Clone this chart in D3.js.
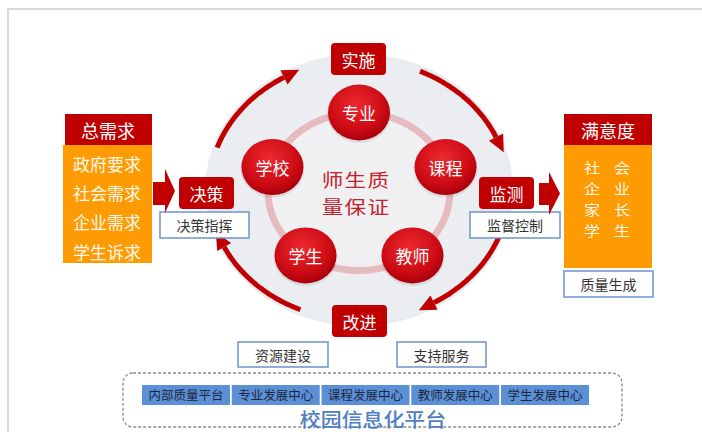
<!DOCTYPE html>
<html><head><meta charset="utf-8">
<script src="https://cdn.jsdelivr.net/npm/d3@7"></script>
<style>html,body{margin:0;padding:0;background:#fff;}svg{display:block;}</style>
</head><body>
<svg id="c" width="702" height="432"></svg>
<script>
// ---- data ----
const demandTitle = "总需求";
const demandItems = ["政府要求", "社会需求", "企业需求", "学生诉求"];
const satisfactionTitle = "满意度";
const satisfactionItems = [["社", "会"], ["企", "业"], ["家", "长"], ["学", "生"]];
const cycleSteps = ["实施", "监测", "改进", "决策"];
const stepNotes = ["决策指挥", "监督控制", "质量生成"];
const supportNotes = ["资源建设", "支持服务"];
const coreNodes = ["专业", "课程", "教师", "学生", "学校"];
const coreTitle = ["师生质", "量保证"];
const platformItems = ["内部质量平台", "专业发展中心", "课程发展中心", "教师发展中心", "学生发展中心"];
const platformTitle = "校园信息化平台";

// ---- drawing ----
const svg = d3.select("#c");
const FONT = "'Noto Sans CJK SC','Noto Sans',sans-serif";
const RED = "#c00000", ORANGE = "#fe9a02", BLUEB = "#6d95c9";

svg.append("rect").attr("width", 702).attr("height", 432).attr("fill", "#fff");
svg.append("path").attr("d", "M8,432 L8,9 L702,9").attr("fill", "none")
  .attr("stroke", "#d9d9d9").attr("stroke-width", 2);

const defs = svg.append("defs");
const rg = defs.append("radialGradient").attr("id", "nodeG").attr("cx", "45%").attr("cy", "35%").attr("r", "65%");
rg.append("stop").attr("offset", "0%").attr("stop-color", "#ee2a30");
rg.append("stop").attr("offset", "70%").attr("stop-color", "#cc0b14");
rg.append("stop").attr("offset", "100%").attr("stop-color", "#a8000c");
const bg = defs.append("radialGradient").attr("id", "bgG").attr("cx", "50%").attr("cy", "50%").attr("r", "50%");
bg.append("stop").attr("offset", "0%").attr("stop-color", "#f2f1f3");
bg.append("stop").attr("offset", "100%").attr("stop-color", "#e9ecf0");

// center geometry
const cx = 359, cy = 190;
svg.append("ellipse").attr("cx", cx).attr("cy", cy).attr("rx", 154).attr("ry", 136).attr("fill", "url(#bgG)");

// cycle arcs (clockwise, angles in degrees, screen coords)
const arcR = {rx: 150, ry: 130};
const arcSpans = [[199, 240], [-66, -24], [18, 60], [113, 154]];
const ang = d3.scaleLinear().domain([0, 360]).range([0, 2 * Math.PI]);
const lineGen = d3.line().curve(d3.curveBasis);
arcSpans.forEach(([a0, a1]) => {
  const pts = d3.range(a0, a1 + 0.01, 1).map(a => [cx + arcR.rx * Math.cos(ang(a)), cy + arcR.ry * Math.sin(ang(a))]);
  svg.append("path").attr("d", lineGen(pts)).attr("fill", "none").attr("stroke", RED).attr("stroke-width", 5);
  const t = ang(a1);
  const ex = cx + arcR.rx * Math.cos(t), ey = cy + arcR.ry * Math.sin(t);
  let tx = -arcR.rx * Math.sin(t), ty = arcR.ry * Math.cos(t);
  const L = Math.hypot(tx, ty); tx /= L; ty /= L;
  const nx = -ty, ny = tx;
  const len = 17, hw = 8;
  const tip = [ex + tx * len, ey + ty * len];
  const b1 = [ex + nx * hw, ey + ny * hw], b2 = [ex - nx * hw, ey - ny * hw];
  svg.append("path").attr("d", `M${tip}L${b1}L${b2}Z`).attr("fill", RED);
});

// inner ring
const ring = {rx: 91, ry: 79, cy: 191.5};
svg.append("ellipse").attr("cx", cx).attr("cy", ring.cy).attr("rx", ring.rx).attr("ry", ring.ry)
  .attr("fill", "#f0eff2").attr("stroke", "#e4bcc0").attr("stroke-width", 7);

// core title (two lines, horizontally widened like the reference)
const ctY = d3.scalePoint().domain(coreTitle).range([179.5, 206]);
coreTitle.forEach(s => {
  svg.append("text").attr("transform", `translate(${cx - 3},${ctY(s)}) scale(1.2,1)`)
    .attr("text-anchor", "middle").attr("dominant-baseline", "central")
    .attr("font-family", FONT).attr("font-size", 18).attr("fill", "#c3222b").attr("letter-spacing", 1).text(s);
});

// core nodes on pentagon
const nodeAng = d3.scaleLinear().domain([0, coreNodes.length]).range([-90, 270]);
coreNodes.forEach((n, i) => {
  const t = ang(nodeAng(i));
  const x = cx + ring.rx * Math.cos(t), y = ring.cy + ring.ry * Math.sin(t);
  svg.append("ellipse").attr("cx", x).attr("cy", y + 1.5).attr("rx", 32).attr("ry", 29).attr("fill", "#000").attr("opacity", 0.08);
  svg.append("ellipse").attr("cx", x).attr("cy", y).attr("rx", 31).attr("ry", 28).attr("fill", "url(#nodeG)");
  svg.append("text").attr("x", x).attr("y", y).attr("text-anchor", "middle").attr("dominant-baseline", "central")
    .attr("font-family", FONT).attr("font-size", 17).attr("fill", "#fff").text(n);
});

// red step boxes
const stepBoxes = [[331, 43], [479, 177], [332, 305], [179, 177]];
cycleSteps.forEach((s, i) => {
  const [x, y] = stepBoxes[i];
  svg.append("rect").attr("x", x).attr("y", y).attr("width", 55).attr("height", 32).attr("rx", 4).attr("fill", RED);
  svg.append("text").attr("x", x + 27.5).attr("y", y + 16).attr("text-anchor", "middle").attr("dominant-baseline", "central")
    .attr("font-family", FONT).attr("font-size", 17).attr("fill", "#fff").text(s);
});

// white note boxes
function noteBox(x, y, w, h, s) {
  svg.append("rect").attr("x", x).attr("y", y).attr("width", w).attr("height", h)
    .attr("fill", "#fff").attr("stroke", BLUEB).attr("stroke-width", 1.5);
  svg.append("text").attr("x", x + w / 2).attr("y", y + h / 2).attr("text-anchor", "middle").attr("dominant-baseline", "central")
    .attr("font-family", FONT).attr("font-size", 14).attr("fill", "#333").text(s);
}
noteBox(160, 212, 89, 26, stepNotes[0]);
noteBox(470, 212, 90, 26, stepNotes[1]);
noteBox(564, 271, 89, 26, stepNotes[2]);
noteBox(238, 342, 90, 25, supportNotes[0]);
noteBox(397, 342, 89, 25, supportNotes[1]);

// demand panel
svg.append("rect").attr("x", 63).attr("y", 145).attr("width", 89).attr("height", 118).attr("fill", ORANGE);
svg.append("rect").attr("x", 65).attr("y", 114).attr("width", 87).attr("height", 31).attr("fill", RED);
svg.append("text").attr("x", 108).attr("y", 130).attr("text-anchor", "middle").attr("dominant-baseline", "central")
  .attr("font-family", FONT).attr("font-size", 18).attr("fill", "#fff").text(demandTitle);
const dy = d3.scalePoint().domain(demandItems).range([163, 251]);
demandItems.forEach(s => {
  svg.append("text").attr("x", 107).attr("y", dy(s)).attr("text-anchor", "middle").attr("dominant-baseline", "central")
    .attr("font-family", FONT).attr("font-size", 17).attr("fill", "#fff8ea").text(s);
});

// satisfaction panel
svg.append("rect").attr("x", 564).attr("y", 145).attr("width", 88).attr("height", 123).attr("fill", ORANGE);
svg.append("rect").attr("x", 564).attr("y", 114).attr("width", 88).attr("height", 31).attr("fill", RED);
svg.append("text").attr("x", 608).attr("y", 130).attr("text-anchor", "middle").attr("dominant-baseline", "central")
  .attr("font-family", FONT).attr("font-size", 18).attr("fill", "#fff").text(satisfactionTitle);
const sy = d3.scalePoint().domain(d3.range(satisfactionItems.length)).range([167, 230]);
satisfactionItems.forEach((pair, i) => {
  pair.forEach((ch, j) => {
    svg.append("text").attr("transform", `translate(${592 + j * 30},${sy(i)}) scale(1.15,1)`)
      .attr("text-anchor", "middle").attr("dominant-baseline", "central")
      .attr("font-family", FONT).attr("font-size", 14).attr("fill", "#fff8ea").text(ch);
  });
});

// block arrows
function blockArrow(x0, xb, x1, by0, by1, hy0, hy1) {
  svg.append("path").attr("d", `M${x0},${by0}L${xb},${by0}L${xb},${hy0}L${x1},${(hy0 + hy1) / 2}L${xb},${hy1}L${xb},${by1}L${x0},${by1}Z`)
    .attr("fill", RED);
}
blockArrow(153, 165, 175, 182, 205, 169, 213);
blockArrow(539, 549, 560, 183, 205, 172, 215);

// platform
svg.append("rect").attr("x", 123).attr("y", 373).attr("width", 499).attr("height", 54).attr("rx", 10)
  .attr("fill", "none").attr("stroke", "#8a8a8a").attr("stroke-width", 1.3).attr("stroke-dasharray", "3,2");
const px = d3.scaleBand().domain(platformItems).range([142, 589]).paddingInner(0.02);
platformItems.forEach(s => {
  svg.append("rect").attr("x", px(s)).attr("y", 385).attr("width", px.bandwidth()).attr("height", 20).attr("fill", "#5b8fd6");
  svg.append("text").attr("x", px(s) + px.bandwidth() / 2).attr("y", 394.5).attr("text-anchor", "middle").attr("dominant-baseline", "central")
    .attr("font-family", FONT).attr("font-size", 12.5).attr("fill", "#1b2740").text(s);
});
svg.append("text").attr("transform", "translate(373,418.5) scale(1.1,1)").attr("text-anchor", "middle").attr("dominant-baseline", "central")
  .attr("font-family", FONT).attr("font-size", 19).attr("font-weight", 500).attr("fill", "#4f7ec2").text(platformTitle);
</script>
</body></html>
